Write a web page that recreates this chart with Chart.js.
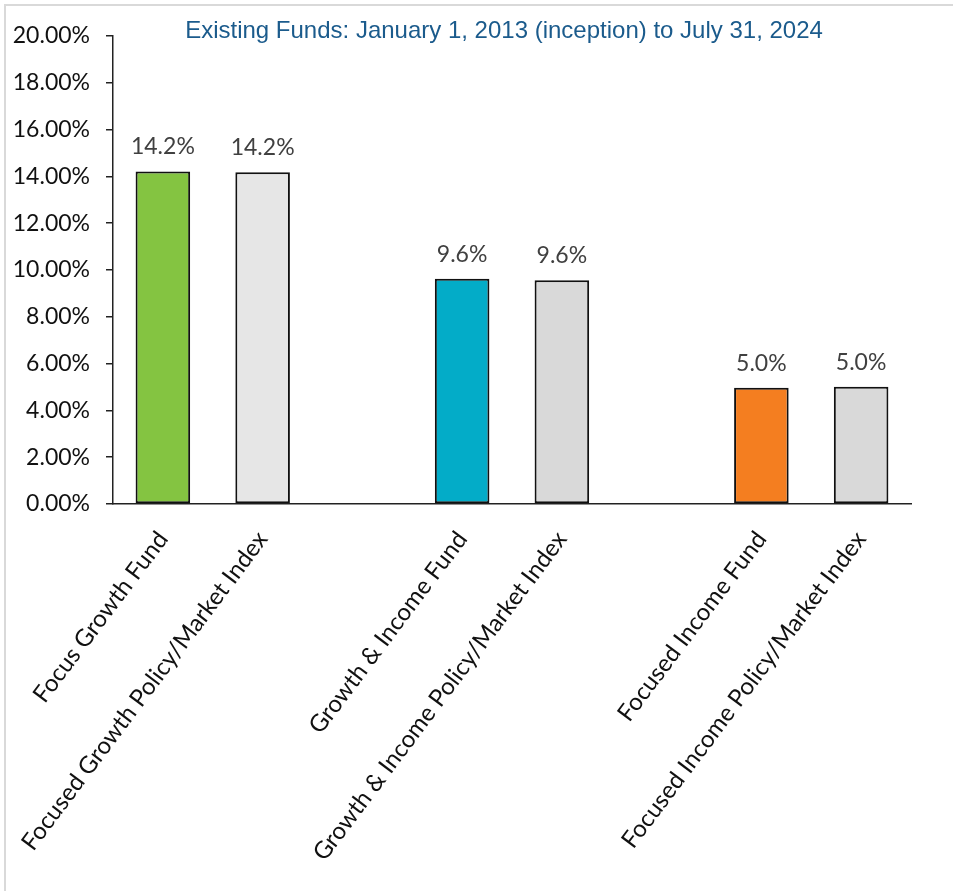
<!DOCTYPE html>
<html>
<head>
<meta charset="utf-8">
<script src="https://cdn.jsdelivr.net/npm/chart.js@4.4.1/dist/chart.umd.min.js"></script>
<style>
  html, body { margin: 0; padding: 0; background: #ffffff; }
  #wrap { width: 953px; height: 891px; position: relative; }
  canvas { display: block; }
</style>
</head>
<body>
<div id="wrap"><canvas id="chart" width="953" height="891"></canvas></div>
<script>
// Annualized returns since inception, in percent (blank slots separate the fund groups)
const categories = [
  "Focus Growth Fund",
  "Focused Growth Policy/Market Index",
  "",
  "Growth & Income Fund",
  "Growth & Income Policy/Market Index",
  "",
  "Focused Income Fund",
  "Focused Income Policy/Market Index"
];
const returns = [14.21, 14.18, null, 9.63, 9.56, null, 4.97, 5.01];
const barColors = ["#84C441", "#E6E6E6", "#FFFFFF", "#03ACC8", "#D9D9D9", "#FFFFFF", "#F47E20", "#D9D9D9"];
const yTicks = [0, 2, 4, 6, 8, 10, 12, 14, 16, 18, 20];
const titleText = "Existing Funds: January 1, 2013 (inception) to July 31, 2024";

const LABEL_FONT = "Lato";

// White background plus the light frame along the top and left edges
const framePlugin = {
  id: "frame",
  beforeDraw(chart) {
    const ctx = chart.ctx;
    ctx.save();
    ctx.fillStyle = "#ffffff";
    ctx.fillRect(0, 0, chart.width, chart.height);
    ctx.strokeStyle = "#D9D9D9";
    ctx.lineWidth = 2;
    ctx.beginPath();
    ctx.moveTo(5, chart.height);
    ctx.lineTo(5, 5);
    ctx.lineTo(chart.width, 5);
    ctx.stroke();
    ctx.restore();
  }
};

// Heading drawn over the top of the plot
const headingPlugin = {
  id: "heading",
  afterDraw(chart) {
    const ctx = chart.ctx;
    ctx.save();
    ctx.font = "24px 'Liberation Sans', Arial, sans-serif";
    ctx.fillStyle = "#1B5B8C";
    ctx.textAlign = "center";
    ctx.textBaseline = "alphabetic";
    ctx.fillText(titleText, 504, 38);
    ctx.restore();
  }
};

// Value labels above each bar
const valueLabelPlugin = {
  id: "valueLabels",
  afterDatasetsDraw(chart) {
    const ctx = chart.ctx;
    const meta = chart.getDatasetMeta(0);
    ctx.save();
    ctx.font = "23px " + LABEL_FONT;
    ctx.fillStyle = "#404040";
    ctx.textAlign = "center";
    ctx.textBaseline = "alphabetic";
    meta.data.forEach((bar, i) => {
      const v = returns[i];
      if (v === null || v === undefined) return;
      ctx.fillText(v.toFixed(1) + "%", bar.x, bar.y - 17);
    });
    ctx.restore();
  }
};

new Chart(document.getElementById("chart"), {
  type: "bar",
  data: {
    labels: categories,
    datasets: [{
      data: returns,
      backgroundColor: barColors,
      borderColor: "#111111",
      borderWidth: 2,
      borderSkipped: false,
      categoryPercentage: 0.547,
      barPercentage: 1.0
    }]
  },
  options: {
    responsive: false,
    animation: false,
    devicePixelRatio: 1,
    layout: { padding: { top: 36, right: 42, left: 0, bottom: 0 } },
    plugins: {
      legend: { display: false },
      title: { display: false },
      tooltip: { enabled: false }
    },
    scales: {
      x: {
        offset: true,
        grid: { display: false, drawTicks: false },
        border: { display: true, color: "#222222", width: 1.5 },
        ticks: {
          autoSkip: false,
          maxRotation: 53,
          minRotation: 53,
          padding: 22,
          color: "#111111",
          font: { family: LABEL_FONT, size: 24 }
        },
        afterFit(scale) { scale.height = 387; }
      },
      y: {
        min: 0,
        max: 20,
        grid: { display: true, drawOnChartArea: false, drawTicks: true, tickLength: 7, color: "#222222", lineWidth: 1.5 },
        border: { display: true, color: "#222222", width: 1.5 },
        ticks: {
          padding: 16,
          color: "#111111",
          font: { family: LABEL_FONT, size: 23 },
          callback: (v) => Number(v).toFixed(2) + "%"
        },
        afterBuildTicks(scale) { scale.ticks = yTicks.map(v => ({ value: v })); },
        afterFit(scale) { scale.width = 113; }
      }
    }
  },
  plugins: [framePlugin, valueLabelPlugin, headingPlugin]
});
</script>
</body>
</html>
